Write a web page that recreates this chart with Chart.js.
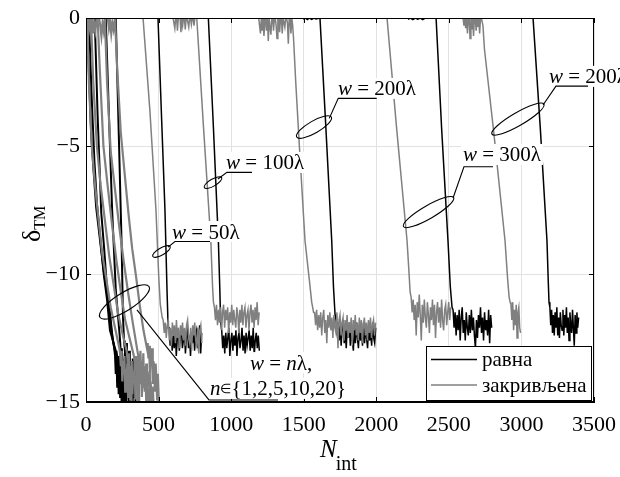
<!DOCTYPE html>
<html>
<head>
<meta charset="utf-8">
<script src="https://cdn.jsdelivr.net/npm/chart.js@4.4.0/dist/chart.umd.min.js"></script>
<style>
  html, body { margin: 0; padding: 0; background: #fff; }
  canvas { display: block; }
</style>
</head>
<body>
<canvas id="deltaChart" width="620" height="477"></canvas>
<script>
// axes
const xTicks = [0, 500, 1000, 1500, 2000, 2500, 3000, 3500];
const yTicks = [0, -5, -10, -15];
const seriesNames = ['равна', 'закривљена'];

// w = nλ, n = 1, 2, 5, 10, 20 : drop [N, δ] + noisy tail (every 5 N after the drop)
const flatN1 = [[0, 0], [14, -1.2], [35, -4.5], [50, -5.8], [70, -7.4], [95, -8.6], [120, -9.8], [150, -11.0], [175, -12.2], [195, -12.9]];
const flatN1Tail = [-13.2, -13.9, -13.0, -14.4, -13.5, -14.1, -13.3, -14.8, -13.7, -14.3, -15.2, -14.0, -14.6, -16];
const flatN2 = [[20, 0], [42, -3.5], [58, -5.6], [76, -7.3], [98, -8.6], [122, -10.0], [145, -11.0], [165, -12.2], [185, -12.6], [205, -13.2]];
const flatN2Tail = [-13.6, -14.2, -13.3, -14.7, -13.8, -14.4, -13.5, -15.0, -14.1, -14.6, -13.9, -15.3, -14.5, -16];
const flatN5 = [[60, 0], [80, -3.8], [105, -7.6], [125, -9.0], [145, -10.6], [165, -11.5], [185, -12.6], [215, -13.2]];
const flatN5Tail = [-13.5, -14.1, -13.2, -14.6, -13.7, -14.3, -13.4, -14.9, -14.0, -14.5, -13.8, -15.1, -14.3, -14.8, -14.1, -15.4, -16];
const flatN10 = [[136, 0], [158, -3.8], [180, -7.5], [205, -10.6], [232, -12.4]];
const flatN10Tail = [-12.8, -13.5, -12.9, -14.0, -13.3, -13.8, -13.1, -14.4, -13.6, -14.1, -13.4, -14.7, -13.9, -14.4, -15.0, -14.2, -14.8, -15.5, -16];
const flatN20 = [[205, 0], [228, -5], [246, -9], [255, -11.7], [262, -12.6]];
const flatN20Tail = [-12.9, -13.4, -12.7, -13.9, -13.2, -13.6, -13.0, -14.2, -13.5, -13.8, -14.5, -13.3, -14.0, -14.8, -13.7, -15.2, -16];

const curvN1 = [[0, -0.3], [8, -0.1], [20, -2.5], [40, -5], [60, -6.4], [85, -7.8], [112, -9.2], [140, -10.2], [170, -11.3], [200, -12.1], [230, -12.9]];
const curvN1Tail = [-13.1, -13.6, -13.0, -14.2, -13.4, -13.9, -13.2, -14.6, -13.7, -14.0, -13.5, -14.8, -13.8, -14.3, -14.9, -14.1, -15.2, -16];
const curvN2 = [[0, -0.1], [10, -0.5], [18, -0.1], [26, -0.4], [34, 0], [50, -2.5], [75, -5], [100, -6.5], [130, -7.9], [160, -9.3], [190, -10.4], [220, -11.5], [250, -12.3], [280, -13]];
const curvN2Tail = [-13.3, -13.9, -13.1, -14.4, -13.6, -14.0, -13.4, -14.7, -13.8, -14.2, -13.5, -14.9, -14.0, -14.5, -13.9, -15.1, -14.4, -16];
const curvN5 = [[40, 0], [48, -0.6], [56, -0.2], [64, -0.5], [72, -0.1], [80, 0], [95, -2], [120, -5], [148, -6.5], [178, -8], [210, -9.5], [240, -10.7], [270, -11.8], [300, -12.5], [330, -13.2]];
const curvN5Tail = [-13.4, -13.8, -13.2, -14.1, -13.5, -14.5, -13.3, -13.9, -14.3, -13.6, -14.8, -13.9, -14.2, -13.7, -14.6, -14.0, -15.0, -14.3, -14.7, -15.3, -14.5, -16];
const curvN10 = [[90, 0], [98, -0.3], [106, -0.7], [114, -0.2], [122, -0.5], [130, 0], [145, -2.5], [170, -5.2], [200, -6.7], [230, -8.2], [262, -9.6], [292, -10.8], [322, -11.9], [360, -13.2]];
const curvN10Tail = [-13.2, -13.7, -13.0, -14.0, -13.4, -13.9, -13.1, -14.4, -13.6, -14.1, -13.5, -14.7, -13.8, -14.3, -13.9, -14.9, -14.2, -14.6, -15.2, -14.4, -15.0, -16];
const curvN20 = [[150, 0], [158, -0.4], [166, -0.1], [174, -0.6], [182, -0.2], [190, -0.45], [200, 0], [215, -2], [240, -4.5], [265, -6], [292, -7.6], [318, -9], [345, -10.1], [372, -11.3], [396, -12.2], [420, -12.9]];
const curvN20Tail = [-12.7, -13.3, -12.8, -13.9, -13.1, -13.6, -12.9, -14.3, -13.4, -13.8, -14.6, -13.5, -14.1, -14.9, -13.9, -14.7, -16];

// w = 50λ
const flat50Drop = [[496, 0], [520, -3.8], [544, -7.5], [558, -10.6], [566, -12.1]];
const flat50Noise = [-12.1, -12.8, -12.3, -13.0, -12.4, -12.9, -12.2, -13.2, -12.5, -12.3, -13.0, -12.4, -12.1, -12.9, -12.6, -12.2, -13.1, -12.5, -12.0, -12.9, -12.4, -13.2, -12.3, -12.7, -12.1, -13.0, -12.4, -12.2, -12.9, -12.5, -12.0, -13.1, -12.3];
const curv50Drop = [[393, 0], [440, -3.6], [482, -7.5], [502, -10.2], [512, -11.2], [525, -11.7]];
const curv50Noise = [-11.8, -12.3, -11.9, -12.5, -12.0, -11.8, -12.6, -12.1, -12.8, -11.9, -12.4, -12.0, -12.7, -11.8, -12.5, -12.1, -12.9, -12.0, -12.4, -11.9, -12.6, -12.1, -12.8, -12.0, -11.8, -12.5, -12.7, -12.1, -13.0, -12.0, -12.4, -11.9, -12.6, -12.8, -12.1, -13.1, -12.2, -12.0, -12.7];

// w = 100λ
const flat100Drop = [[843, 0], [878, -4.3], [912, -8.7], [922, -10.6], [928, -11.9]];
const flat100Noise = [-12.2, -12.9, -12.4, -13.1, -12.3, -12.9, -12.5, -12.1, -13.2, -12.6, -12.3, -13.0, -12.4, -12.8, -12.2, -13.2, -12.5, -12.3, -12.9, -12.6, -12.1, -13.0, -12.4, -13.1, -12.3, -12.8, -12.5, -12.2, -13.0, -12.4, -12.9, -12.1, -13.2, -12.6, -12.3, -12.9, -12.4, -13.0];
const curv100Top = [0, 0, -0.4, 0, 0, -0.5, 0, 0, 0, -0.55, 0, -0.3, 0, 0, -0.45, 0, 0, 0, -0.35, 0, 0, -0.25, 0, 0, -0.3, 0, 0];
const curv100Drop = [[763, 0], [810, -4.3], [860, -8.7], [872, -10.5], [878, -11.1]];
const curv100Noise = [-11.3, -11.8, -11.2, -12.0, -11.4, -11.9, -11.3, -12.2, -11.5, -11.2, -12.1, -11.4, -11.8, -11.3, -12.3, -11.5, -11.9, -11.2, -12.0, -11.4, -11.8, -12.1, -11.3, -11.6, -12.3, -11.4, -11.9, -11.2, -12.0, -11.5, -11.3, -12.1, -11.6, -11.4, -12.2, -11.5, -11.2, -11.9, -11.4, -12.1, -11.3, -11.8, -11.1, -12.0, -11.5];

// w = 200λ (first)
const flat200Top = [-0.04, 0, -0.06, 0, -0.05, 0, -0.04];
const flat200Drop = [[1612, 0], [1650, -4], [1693, -8.7], [1705, -10.5], [1716, -11.6]];
const flat200Noise = [-11.8, -12.4, -11.9, -12.6, -12.0, -12.8, -12.1, -11.8, -12.7, -12.2, -12.9, -12.0, -12.5, -11.9, -12.8, -12.2, -12.6, -13.0, -12.1, -12.7, -11.9, -12.5, -12.9, -12.0, -12.6, -12.2, -12.8, -11.9, -12.7, -12.1, -12.5, -12.9, -12.0, -12.6, -12.2, -12.8, -11.9, -12.5, -12.7, -12.1];
const curv200Top = [0, -0.3, -0.6, 0, -0.5, 0, -0.7, -0.2, 0, -0.5, 0, -0.9, 0, -0.4, -0.65, 0, 0, -0.5, 0, 0, -0.3, -0.8, 0, 0, -0.55, 0, 0, -0.6, 0, 0, -0.35, 0, 0, -0.2, -1.0, 0, 0, -0.6, 0, -0.3];
const curv200Drop = [[1430, -0.8], [1445, -2.5], [1470, -5], [1509, -8.7], [1540, -10.3], [1555, -11.1], [1568, -11.5]];
const curv200Noise = [-11.5, -12.0, -11.4, -12.2, -11.6, -12.1, -11.5, -12.4, -11.7, -11.4, -12.3, -11.8, -12.7, -11.6, -12.1, -11.5, -12.2, -11.7, -12.5, -11.6, -12.1, -12.3, -11.5, -12.9, -11.8, -11.6, -12.4, -11.9, -11.7, -12.6, -11.8, -12.2, -11.6, -12.5, -11.9, -12.3, -11.7, -12.8, -11.8, -12.2, -11.6, -12.4, -11.9, -12.6, -11.7, -12.3, -11.8, -12.7, -12.0, -11.7, -12.4, -11.9, -12.6, -11.8, -12.3, -11.7, -12.5, -12.0, -11.8, -12.4, -11.9];

// w = 300λ
const flat300Top = [-0.05, 0, -0.06, 0, -0.05, 0, -0.06, 0];
const flat300Drop = [[2412, 0], [2450, -4.3], [2494, -8.7], [2510, -10.5], [2522, -11.3]];
const flat300Noise = [-11.4, -12.1, -11.5, -12.4, -11.6, -12.2, -11.4, -12.6, -11.7, -11.3, -12.3, -11.8, -12.6, -11.5, -12.1, -12.4, -11.6, -12.3, -11.4, -12.2, -11.7, -12.4, -12.9, -11.8, -12.5, -11.6, -12.1, -11.3, -12.3, -11.7, -12.6, -11.5, -12.2, -11.8, -12.4, -11.4, -12.7, -11.6, -12.1];
const curv300Drop = [[2074, 0], [2140, -4.3], [2212, -8.7], [2226, -10], [2233, -10.7]];
const curv300Noise = [-10.9, -11.5, -11.0, -11.8, -11.2, -12.4, -11.1, -11.7, -10.8, -11.6, -12.6, -11.2, -11.9, -11.0, -11.7, -12.1, -11.1, -11.6, -12.3, -11.3, -11.8, -11.0, -12.0, -11.2, -12.5, -11.5, -11.1, -11.9, -11.3, -12.1, -11.0, -11.8, -12.2, -11.4, -11.2, -12.0, -11.5, -11.1, -11.8, -11.3];

// w = 200λ (second)
const curv200bTop = [0, -0.3, 0, -0.4, 0, -0.6, 0, 0, -0.8, 0, -0.45, 0, -0.7, 0, 0, -0.5, 0, -0.35, 0, -0.6, 0, 0];
const curv200bDrop = [[2735, -0.3], [2745, -1.2], [2810, -4.5], [2887, -8.7], [2905, -10.2], [2915, -10.9], [2922, -11.1]];
const curv200bNoise = [-11.2, -11.8, -11.1, -12.2, -11.4, -12.0, -11.2, -12.5, -11.5, -11.3, -12.1, -12.3];
const flat200bDrop = [[3080, 0], [3130, -4.3], [3176, -8.7], [3185, -10.3], [3190, -11.1]];
const flat200bNoise = [-11.3, -12.0, -11.4, -12.3, -11.6, -12.4, -11.5, -12.1, -11.3, -12.4, -11.7, -12.5, -11.5, -12.0, -12.2, -11.4, -12.4, -11.6, -12.1, -11.3, -12.3, -11.7, -12.6, -11.5, -12.0, -12.3, -11.4, -12.1, -12.8, -11.6, -12.3, -11.5, -12.1, -11.7];

const FLAT = '#000000';
const CURVED = '#808080';
const SERIF = '"Liberation Serif", "Times New Roman", serif';

function pts(arr) { return arr.map(([x, y]) => ({ x, y })); }
function run(x0, step, ys) { return ys.map((y, i) => ({ x: x0 + i * step, y })); }
function withTail(drop, tail, step) {
  const last = drop[drop.length - 1][0];
  return pts(drop).concat(run(last + step, step, tail));
}

const curvedCluster = [
  withTail(curvN1, curvN1Tail, 5),
  withTail(curvN2, curvN2Tail, 5),
  withTail(curvN5, curvN5Tail, 5),
  withTail(curvN10, curvN10Tail, 5),
  withTail(curvN20, curvN20Tail, 5)
];
const flatCluster = [
  withTail(flatN1, flatN1Tail, 5),
  withTail(flatN2, flatN2Tail, 5),
  withTail(flatN5, flatN5Tail, 5),
  withTail(flatN10, flatN10Tail, 5),
  withTail(flatN20, flatN20Tail, 5)
];
const curvedLines = [
  pts(curv50Drop).concat(run(532, 7, curv50Noise)),
  run(600, 6, curv100Top).concat(pts(curv100Drop), run(885, 7, curv100Noise)),
  run(1190, 6, curv200Top).concat(pts(curv200Drop), run(1575, 7, curv200Noise)),
  pts(curv300Drop).concat(run(2240, 7, curv300Noise)),
  run(2598, 6, curv200bTop).concat(pts(curv200bDrop), run(2928, 6, curv200bNoise))
];
const flatLines = [
  pts(flat50Drop).concat(run(573, 7, flat50Noise)),
  pts(flat100Drop).concat(run(935, 7, flat100Noise)),
  run(1495, 15, flat200Top).concat(pts(flat200Drop), run(1723, 7, flat200Noise)),
  run(2218, 17, flat300Top).concat(pts(flat300Drop), run(2529, 7, flat300Noise)),
  pts(flat200bDrop).concat(run(3196, 6, flat200bNoise))
];

const datasets = [];
curvedLines.forEach(d => datasets.push({ label: seriesNames[1], data: d, borderColor: CURVED, borderWidth: 1.5 }));
flatLines.forEach(d => datasets.push({ label: seriesNames[0], data: d, borderColor: FLAT, borderWidth: 1.5 }));
curvedCluster.forEach(d => datasets.push({ label: seriesNames[1], data: d, borderColor: CURVED, borderWidth: 2.2 }));
flatCluster.forEach(d => datasets.push({ label: seriesNames[0], data: d, borderColor: FLAT, borderWidth: 2 }));
datasets.forEach(d => Object.assign(d, { showLine: true, pointRadius: 0, fill: false, tension: 0 }));

// ellipse callouts, in data units (N, δ); sizes in px
const callouts = [
  { c: [265, -11.09], rx: 29, ry: 9, rot: -32, leader: [[351, -11.4], [847, -14.92], [1323, -14.92]] },
  { c: [520, -9.12], rx: 10, ry: 3.5, rot: -30, leader: [[565, -8.95], [613, -8.73], [854, -8.73]] },
  { c: [875, -6.43], rx: 10, ry: 3.5, rot: -30, leader: [[909, -6.29], [971, -6.03], [1144, -6.03]] },
  { c: [1571, -4.26], rx: 20, ry: 6, rot: -30, leader: [[1676, -3.92], [1738, -3.14], [2003, -3.14]] },
  { c: [2360, -7.58], rx: 29, ry: 6.5, rot: -30, leader: [[2529, -7.03], [2604, -5.81], [2804, -5.81]] },
  { c: [2976, -3.95], rx: 30, ry: 6.5, rot: -30, leader: [[3149, -3.40], [3238, -2.66], [3459, -2.66]] }
];
const calloutText = [
  { at: [1130, -13.48], parts: [['w', 'i'], [' = ', 'r'], ['n', 'i'], ['λ,', 'r']] },
  { at: [854, -14.49], parts: [['n', 'i'], ['∈', 's'], ['{1,2,5,10,20}', 'r']] },
  { at: [593, -8.36], parts: [['w', 'i'], [' = 50λ', 'r']] },
  { at: [965, -5.66], parts: [['w', 'i'], [' = 100λ', 'r']] },
  { at: [1736, -2.77], parts: [['w', 'i'], [' = 200λ', 'r']] },
  { at: [2597, -5.35], parts: [['w', 'i'], [' = 300λ', 'r']] },
  { at: [3190, -2.30], parts: [['w', 'i'], [' = 200λ', 'r']] }
];

function fontFor(kind) {
  if (kind === 'i') return 'italic 21px ' + SERIF;
  if (kind === 's') return '13px ' + SERIF;
  return '21px ' + SERIF;
}

const decorations = {
  id: 'decorations',
  afterDraw(chart) {
    const { ctx, chartArea: a, scales: { x, y } } = chart;
    ctx.save();
    ctx.strokeStyle = '#000';
    ctx.lineWidth = 1;
    // box and inward ticks
    ctx.strokeRect(a.left + 0.5, a.top + 0.5, a.right - a.left - 1, a.bottom - a.top - 1);
    ctx.beginPath();
    xTicks.forEach(v => {
      const px = Math.round(x.getPixelForValue(v)) + 0.5;
      ctx.moveTo(px, a.bottom); ctx.lineTo(px, a.bottom - 5);
      ctx.moveTo(px, a.top); ctx.lineTo(px, a.top + 5);
    });
    yTicks.forEach(v => {
      const py = Math.round(y.getPixelForValue(v)) + 0.5;
      ctx.moveTo(a.left, py); ctx.lineTo(a.left + 5, py);
      ctx.moveTo(a.right, py); ctx.lineTo(a.right - 5, py);
    });
    ctx.stroke();

    // callout labels with white background
    ctx.textBaseline = 'middle';
    ctx.textAlign = 'left';
    calloutText.forEach(t => {
      let w = 0;
      t.parts.forEach(([s, k]) => { ctx.font = fontFor(k); w += ctx.measureText(s).width; });
      const lx = x.getPixelForValue(t.at[0]);
      const cy = y.getPixelForValue(t.at[1]);
      ctx.fillStyle = '#fff';
      ctx.fillRect(lx - 2, cy - 11, w + 4, 21);
      ctx.fillStyle = '#000';
      let cx = lx;
      t.parts.forEach(([s, k]) => {
        ctx.font = fontFor(k);
        ctx.fillText(s, cx, cy + 1);
        cx += ctx.measureText(s).width;
      });
    });

    // ellipses and leaders
    ctx.lineWidth = 1.1;
    callouts.forEach(c => {
      ctx.beginPath();
      ctx.ellipse(x.getPixelForValue(c.c[0]), y.getPixelForValue(c.c[1]), c.rx, c.ry, c.rot * Math.PI / 180, 0, Math.PI * 2);
      ctx.stroke();
      ctx.beginPath();
      c.leader.forEach(([vx, vy], i) => {
        const px = x.getPixelForValue(vx), py = y.getPixelForValue(vy);
        if (i === 0) ctx.moveTo(px, py); else ctx.lineTo(px, py);
      });
      ctx.stroke();
    });

    // legend
    const lw = 165, lh = 54;
    const lx = a.right - 3 - lw, ly = a.bottom - 2 - lh;
    ctx.fillStyle = '#fff';
    ctx.fillRect(lx, ly, lw, lh);
    ctx.lineWidth = 1;
    ctx.strokeStyle = '#000';
    ctx.strokeRect(lx + 0.5, ly + 0.5, lw, lh);
    [[FLAT, seriesNames[0], 13.5], [CURVED, seriesNames[1], 39]].forEach(([col, name, dy]) => {
      ctx.strokeStyle = col;
      ctx.lineWidth = 1.3;
      ctx.beginPath();
      ctx.moveTo(lx + 5, ly + dy); ctx.lineTo(lx + 51, ly + dy);
      ctx.stroke();
      ctx.fillStyle = '#000';
      ctx.font = '21px ' + SERIF;
      ctx.fillText(name, lx + 56, ly + dy + 1);
    });

    // axis titles
    ctx.textBaseline = 'alphabetic';
    ctx.fillStyle = '#000';
    ctx.font = 'italic 25px ' + SERIF;
    ctx.fillText('N', 320, 457);
    const nW = ctx.measureText('N').width;
    ctx.font = '20px ' + SERIF;
    ctx.fillText('int', 320 + nW - 1, 470);

    ctx.translate(40, 242);
    ctx.rotate(-Math.PI / 2);
    ctx.font = '26px ' + SERIF;
    ctx.fillText('δ', 0, 0);
    const dW = ctx.measureText('δ').width;
    ctx.font = '16px ' + SERIF;
    ctx.fillText('TM', dW, 5);
    ctx.restore();
  }
};

const tickFont = { family: SERIF, size: 22 };

new Chart(document.getElementById('deltaChart'), {
  type: 'scatter',
  data: { datasets },
  options: {
    responsive: false,
    animation: false,
    events: [],
    layout: { padding: { top: 18, right: 26, left: 0, bottom: 0 } },
    plugins: { legend: { display: false }, tooltip: { enabled: false } },
    scales: {
      x: {
        type: 'linear', min: 0, max: 3500,
        afterBuildTicks: s => { s.ticks = xTicks.map(v => ({ value: v })); },
        afterFit: s => { s.height = 75; s.paddingLeft = 0; s.paddingRight = 0; },
        grid: { color: '#e2e2e2', drawTicks: false },
        border: { color: '#000' },
        ticks: { font: tickFont, color: '#000', padding: 10, maxRotation: 0, autoSkip: false, callback: v => String(v) }
      },
      y: {
        type: 'linear', min: -15, max: 0,
        afterBuildTicks: s => { s.ticks = yTicks.map(v => ({ value: v })); },
        afterFit: s => { s.width = 86; s.paddingTop = 0; s.paddingBottom = 0; },
        grid: { color: '#e2e2e2', drawTicks: false },
        border: { color: '#000' },
        ticks: {
          font: tickFont, color: '#000', padding: 6,
          callback: v => (v < 0 ? '\u2212' + (-v) : String(v))
        }
      }
    }
  },
  plugins: [decorations]
});
</script>
</body>
</html>
